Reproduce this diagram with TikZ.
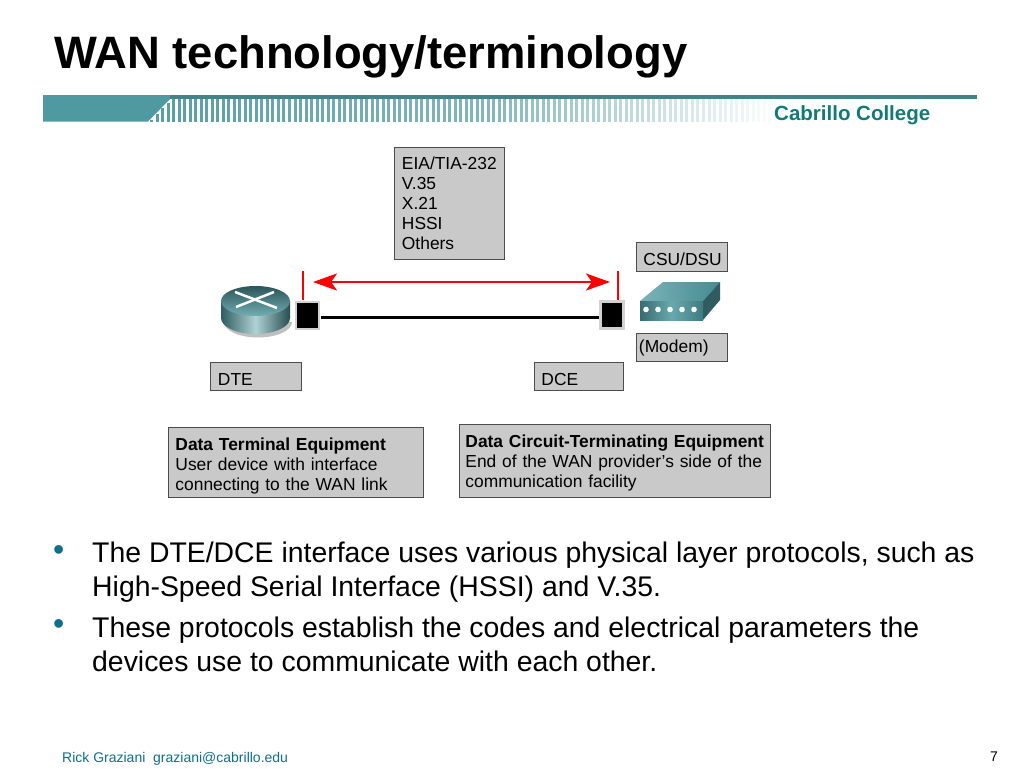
\documentclass[tikz,border=0pt]{standalone}
\usepackage{fontspec}
\setmainfont{Liberation Sans}
\usetikzlibrary{arrows.meta}
\definecolor{teal1}{HTML}{4E9AA0}
\definecolor{cabr}{HTML}{0F7B78}
\definecolor{foot}{HTML}{0E6F8C}
\definecolor{boxg}{HTML}{C9C9C9}
\tikzset{
  lbl/.style={draw=black!70,line width=.9pt,fill=boxg,align=left,inner xsep=7pt,inner ysep=0pt,font=\fontsize{17.4}{20}\selectfont,anchor=north west},
  port/.style={fill=black,draw=black!18,line width=2.5pt,minimum width=23pt,minimum height=27pt,inner sep=0pt},
  redline/.style={draw=red,line width=2.6pt},
  body/.style={anchor=base west,inner sep=0pt,font=\fontsize{28.4}{28}\selectfont},
  bullet/.style={anchor=base west,inner sep=0pt,text=foot,font=\fontsize{32}{32}\selectfont},
}
\begin{document}
\begin{tikzpicture}[x=1pt,y=-1pt]
\useasboundingbox (0,0) rectangle (1024,768);
\fill[white] (0,0) rectangle (1024,768);
% title
\node[anchor=base west,inner sep=0pt,font=\fontsize{45.4}{45}\selectfont\bfseries] (title) at (54,68) {WAN technology/terminology};
% header bar
\fill[teal1] (43,95) -- (172,95) -- (172,97) -- (148,121.5) -- (43,121.5) -- cycle;
\foreach \i in {0,...,113}{
  \pgfmathsetmacro{\xx}{150+5.52*\i}
  \pgfmathsetmacro{\op}{\i<62?0.95-0.004*\i:max(0.02,0.70-(\i-62)*0.0135)}
  \pgfmathsetmacro{\yy}{\xx<172?121.5-(\xx-148)*1.0:98}
  \fill[teal1,opacity=\op] (\xx,\yy) rectangle (\xx+3,121.5);
}
\fill[teal1!85!black] (170,95) rectangle (977,98.5);
\node[anchor=base west,inner sep=0pt,text=cabr,font=\fontsize{20.5}{20}\selectfont\bfseries] (college) at (774,120) {Cabrillo College};
% top box
\node[lbl,minimum width=109.5pt,text width=94.5pt,inner xsep=7.5pt,minimum height=111.5pt] (proto) at (394,147) {\mbox{EIA/TIA-232}\\V.35\\X.21\\HSSI\\Others};
% router
\fill[black!25] (224,322) arc[start angle=180,end angle=0,x radius=34,y radius=15.5] -- cycle;
\shade[left color=teal1!60!black,right color=teal1!50!black,middle color=teal1!45!white] (221,301) -- (221,318) arc[start angle=180,end angle=0,x radius=34.5,y radius=16] -- (290,301) -- cycle;
\shade[top color=teal1!55!black,bottom color=teal1!80!white] (255.5,301) ellipse[x radius=34.5,y radius=15];
\draw[white,line width=2.5pt] (235,292) -- (277,308);
\draw[white,line width=2.5pt] (274,292) -- (236,307);
% ports
\node[port] (pl) at (307.5,315.5) {};
\node[port] (pr) at (612,315) {};
\draw[line width=3pt] (pl.east) ++(1,1.5) coordinate (la) -- (pr.west |- la);
% red
\coordinate (tl) at (303,271);
\coordinate (tr) at (618,271);
\draw[redline] (tl) -- (303,300);
\draw[redline] (tr) -- (618,300);
\draw[redline,{Stealth[length=24pt,width=17pt,inset=6pt]}-{Stealth[length=24pt,width=17pt,inset=6pt]}] (313,282) -- (610,282);
% modem
\shade[left color=teal1!75!white,right color=teal1!90!black] (640,301) -- (663,282) -- (720,282) -- (703,301) -- cycle;
\fill[teal1!60!black] (703,301) -- (720,282) -- (720,300) -- (703,320) -- cycle;
\shade[left color=teal1!70!black,right color=teal1!80!black,middle color=teal1!85!white] (640,301) rectangle (703,320);
\foreach \x in {646,658,670,682,694}{\fill[white] (\x,309.5) circle[radius=2.8];}
% labels
\node[lbl,minimum width=90.5pt,text width=76.5pt,minimum height=28.5pt] (csu) at (636,242) {\mbox{\rule{0pt}{17.5pt}CSU/DSU}};
\node[lbl,minimum width=90.5pt,text width=85.5pt,minimum height=28pt,inner xsep=2.5pt] (modem) at (636,333) {\mbox{\rule{0pt}{14.5pt}(Modem)}};
\node[lbl,minimum width=90.5pt,text width=75.5pt,inner xsep=7.5pt,minimum height=28pt] (dte) at (210,362) {\rule{0pt}{18.5pt}DTE};
\node[lbl,minimum width=89pt,text width=75pt,minimum height=28pt] (dce) at (534,362) {\rule{0pt}{18.5pt}DCE};
\node[lbl,minimum width=254.5pt,text width=240.5pt,minimum height=70pt] (dtebig) at (168,427) {\mbox{\rule{0pt}{20pt}\textbf{Data Terminal Equipment}}\\User device with interface\\connecting to the WAN link};
\node[lbl,minimum width=310.5pt,text width=298.5pt,inner xsep=6pt,minimum height=73pt] (dcebig) at (459,424) {\mbox{\rule{0pt}{16pt}\textbf{Data Circuit-Terminating Equipment}}\\\mbox{End of the WAN provider's side of the}\\communication facility};
% bullets
\node[bullet] (b1) at (53,560) {•};
\node[body] (t1) at (92,562) {The DTE/DCE interface uses various physical layer protocols, such as};
\node[body] (t2) at (92,596) {High-Speed Serial Interface (HSSI) and V.35.};
\node[bullet] (b2) at (53,634.5) {•};
\node[body] (t3) at (92,637) {These protocols establish the codes and electrical parameters the};
\node[body] (t4) at (92,671) {devices use to communicate with each other.};
% footer
\node[anchor=base west,inner sep=0pt,text=foot,font=\fontsize{14}{14}\selectfont] (ft) at (62,762) {Rick Graziani\ \ graziani@cabrillo.edu};
\node[anchor=base east,inner sep=0pt,font=\fontsize{14}{14}\selectfont] (pg) at (998,761) {7};
\end{tikzpicture}
\end{document}
